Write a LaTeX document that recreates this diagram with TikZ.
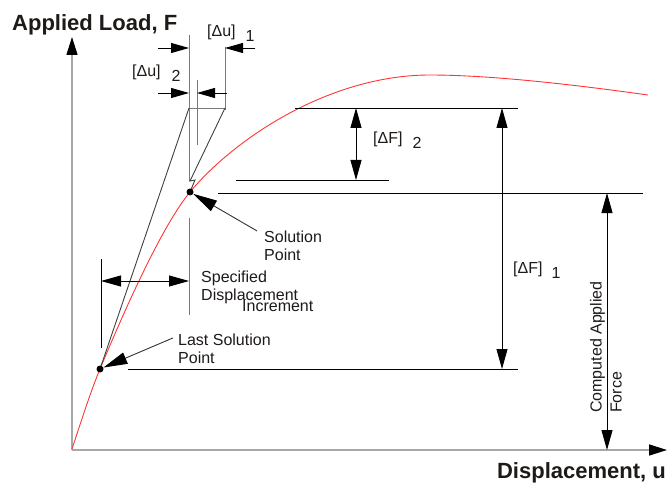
\documentclass[tikz,border=0pt]{standalone}
\usepackage{fontspec}
\setmainfont{Liberation Sans}
\usetikzlibrary{arrows.meta,positioning}
\definecolor{axisgray}{HTML}{A8A8A8}
\definecolor{guidegray}{HTML}{7A7A7A}
\definecolor{curvered}{HTML}{FF3434}
\definecolor{inkdark}{HTML}{1E1A18}
\tikzset{
  lbl/.style={inner sep=0pt, font=\fontsize{16}{18}\selectfont, text=inkdark},
  axlbl/.style={inner sep=0pt, font=\fontsize{22}{24}\selectfont\bfseries, text=inkdark},
  axisline/.style={line width=1.6pt, color=axisgray,
                   -{Triangle[length=18pt, width=11pt, color=black]}},
  loadcurve/.style={line width=0.9pt, color=curvered},
  refline/.style={line width=0.9pt, color=black},
  guide/.style={line width=0.9pt, color=guidegray},
  trail/.style={line width=0.9pt, color=black!75},
  dimarr/.style={line width=0.9pt, color=black,
                 {Triangle[length=20pt, width=11pt]}-{Triangle[length=20pt, width=11pt]}},
  duarr/.style={line width=0.9pt, color=black, -{Triangle[length=18pt, width=10pt]}},
  ptr/.style={line width=0.9pt, color=black!80, -{Triangle[length=24pt, width=12pt, color=black]}},
  dot/.style={circle, fill=black, inner sep=0pt, minimum size=7pt}}

\begin{document}
\begin{tikzpicture}[x=1pt, y=-1pt]
  \useasboundingbox (0,0) rectangle (667,484);
  % axes
  \coordinate (orig) at (72,450);
  \coordinate (ytip) at (72,37);
  \coordinate (xtip) at (667,450);
  \draw[axisline] (orig) -- (ytip);
  \draw[axisline] (orig) -- (xtip);
  \node[axlbl, anchor=base west] (ylab) at (12,31) {Applied Load, F};
  \node[axlbl, anchor=base east] (xlab) at (666,478) {Displacement, u};

  % load--displacement curve
  \coordinate (lastpt) at (100,369);
  \coordinate (solpt) at (190,192);
  \coordinate (peak) at (430,75);
  \coordinate (cend) at (648,95);
  \draw[loadcurve] (72,449) .. controls (81,422) and (90,393) .. (lastpt)
    .. controls (125,309) and (162,226) .. (solpt)
    .. controls (235,138) and (330,75) .. (peak)
    .. controls (500,75) and (598,88) .. (cend);

  % force levels
  \coordinate (lvtop) at (295,108);
  \coordinate (lvtopR) at (518,108);
  \coordinate (lvmid) at (236,180);
  \coordinate (lvmidR) at (389,180);
  \coordinate (lvsol) at (218,193);
  \coordinate (lvsolR) at (643,193);
  \coordinate (lvlast) at (128,369);
  \coordinate (lvlastR) at (518,369);
  \draw[refline] (lvtop) -- (lvtopR);
  \draw[refline] (lvmid) -- (lvmidR);
  \draw[refline] (lvsol) -- (lvsolR);
  \draw[refline] (lvlast) -- (lvlastR);

  % force increments
  \coordinate (df2) at (356,108);
  \coordinate (df1) at (502,108);
  \coordinate (caf) at (607,193);
  \draw[dimarr] (df2) -- (df2 |- lvmid);
  \draw[dimarr] (df1) -- (df1 |- lvlast);
  \draw[dimarr] (caf) -- (caf |- orig);
  \node[lbl, anchor=base west] (df2lab) at (373,144) {[ΔF]\hspace{10pt}\raisebox{-5pt}{2}};
  \node[lbl, anchor=base west] (df1lab) at (513,273) {[ΔF]\hspace{9pt}\raisebox{-5pt}{1}};
  \node[lbl, rotate=90, align=left, font=\fontsize{16}{20}\selectfont]
    (caflab) at (606,347) {Computed Applied\\Force};

  % displacement increments
  \coordinate (ua) at (189,35);
  \coordinate (uaBot) at (189,181);
  \coordinate (ub) at (225,47);
  \coordinate (ubBot) at (225,110);
  \coordinate (uc) at (197,80);
  \coordinate (ucBot) at (197,145);
  \coordinate (cap) at (189,108);
  \coordinate (zza) at (190,181);
  \coordinate (zzb) at (195,180);
  \draw[guide] (ua) -- (uaBot);
  \draw[guide] (ub) -- (ubBot);
  \draw[guide] (uc) -- (ucBot);
  \draw[guide] (cap) -- (cap -| ub);
  \draw[trail] (cap) -- (lastpt);
  \draw[trail] (cap -| ub) -- (zza) -- (zzb) -- (solpt);
  \coordinate (du1L) at (158,48);
  \coordinate (du1R) at (255,48);
  \coordinate (du2L) at (158,93);
  \coordinate (du2R) at (227,93);
  \draw[duarr] (du1L) -- (du1L -| ua);
  \draw[duarr] (du1R) -- (du1R -| ub);
  \draw[duarr] (du2L) -- (du2L -| ua);
  \draw[duarr] (du2R) -- (du2R -| uc);
  \node[lbl, anchor=base west] (du1lab) at (207,37) {[Δu]\hspace{10pt}\raisebox{-5pt}{1}};
  \node[lbl, anchor=base west] (du2lab) at (132,77) {[Δu]\hspace{11pt}\raisebox{-5pt}{2}};

  % specified displacement increment
  \coordinate (sdi) at (101,259);
  \coordinate (sdiBot) at (101,348);
  \coordinate (sdiArr) at (101,281);
  \coordinate (sdiTop) at (189,218);
  \coordinate (sdiEnd) at (189,315);
  \draw[guide] (sdiTop) -- (sdiEnd);
  \draw[refline] (sdi) -- (sdiBot);
  \draw[dimarr] (sdiArr) -- (sdiArr -| sdiTop);
  \node[lbl, anchor=west, align=left] (sdilab) at (201,287) {Specified\\Displacement};
  \node[lbl, anchor=base west] (incrlab) at (242,311) {Increment};

  % solution points
  \node[dot] (lsp) at (lastpt) {};
  \node[dot] (sp) at (solpt) {};
  \node[lbl, anchor=west, align=left] (sollab) at (264,246) {Solution\\Point};
  \draw[ptr] ([xshift=-7pt]sollab.north west) -- (sp);
  \node[lbl, anchor=west, align=left] (lastlab) at (178,349) {Last Solution\\Point};
  \draw[ptr] ([xshift=-5pt, yshift=-4pt]lastlab.north west) -- (lsp);
\end{tikzpicture}
\end{document}
